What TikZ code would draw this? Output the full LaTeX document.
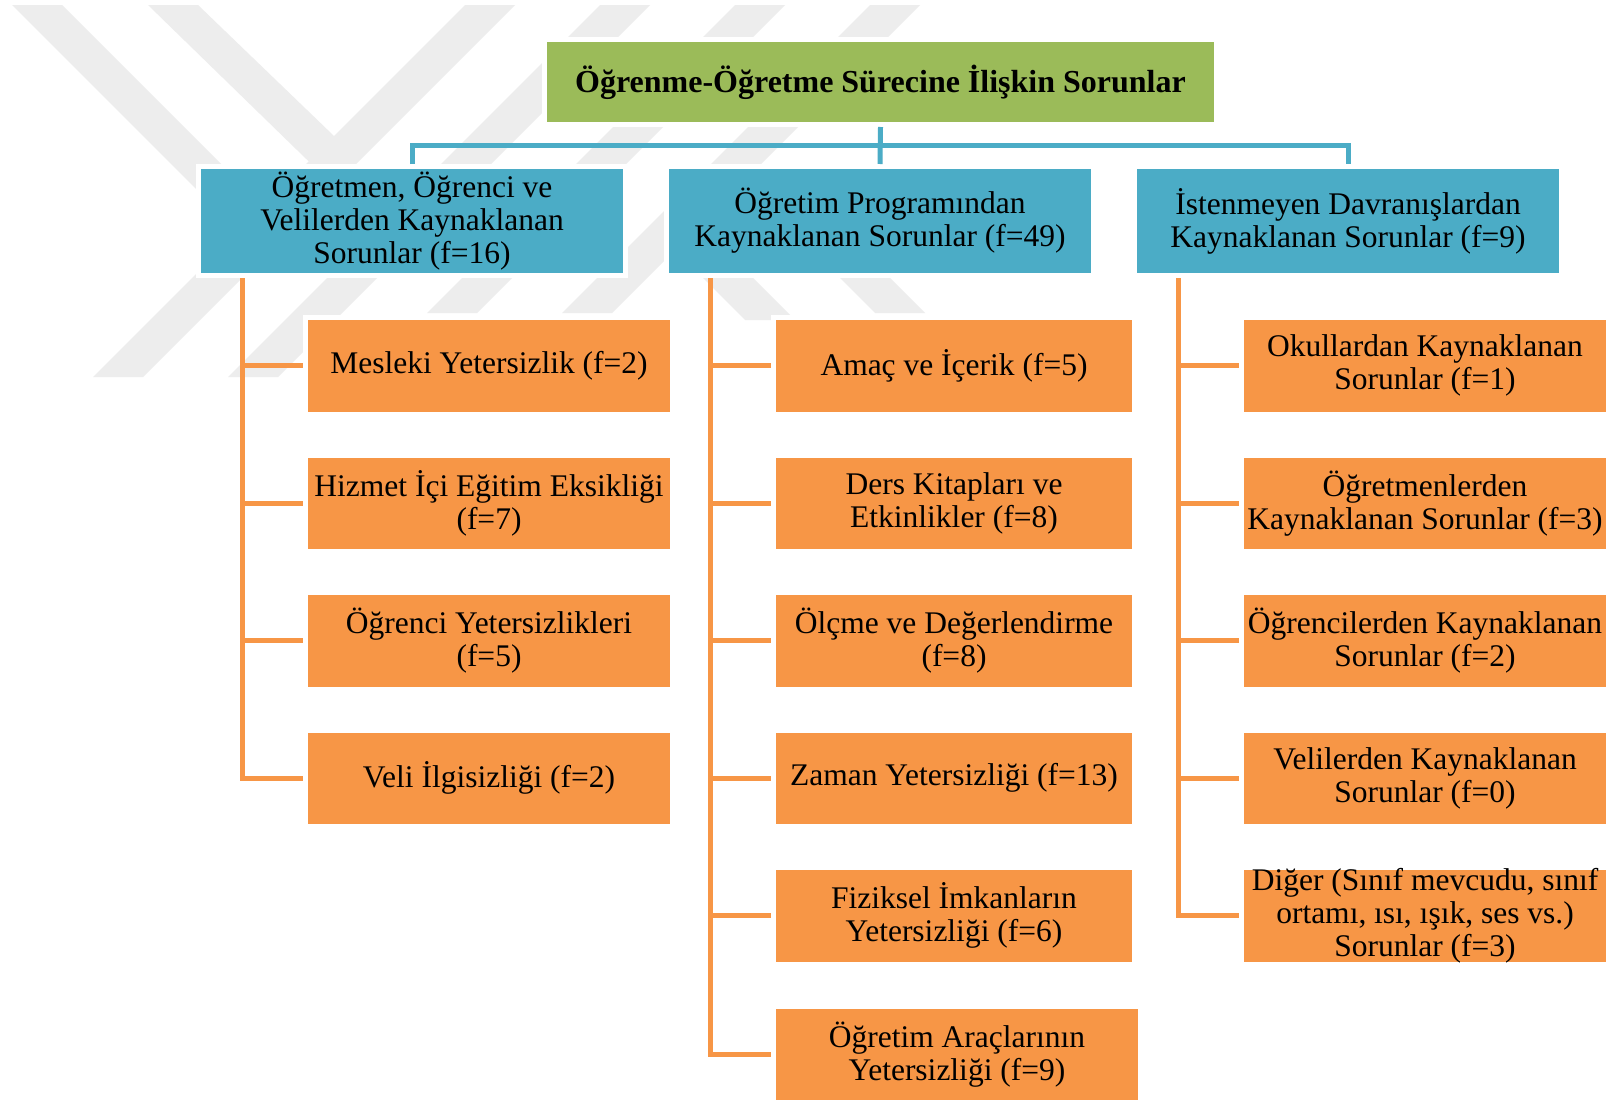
\documentclass[tikz,border=0pt]{standalone}
\usepackage{fontspec}
\setmainfont{Liberation Serif}
\usetikzlibrary{calc}
\definecolor{wm}{RGB}{237,237,237}
\definecolor{titlegreen}{RGB}{155,187,89}
\definecolor{catblue}{RGB}{75,172,198}
\definecolor{suborange}{RGB}{247,150,70}
\begin{document}
\begin{tikzpicture}[x=1pt,y=-1pt,
  box/.style={draw=white,line width=5pt,inner sep=0pt,align=center,text=black,font=\fontsize{31.5}{33}\selectfont},
  titlebox/.style={box,fill=titlegreen,minimum width=672pt,minimum height=85pt,font=\fontsize{32}{33}\selectfont\bfseries},
  catbox/.style={box,fill=catblue,minimum width=427pt,minimum height=109pt},
  subbox/.style={box,fill=suborange,minimum width=367pt,minimum height=96.5pt},
  subboxn/.style={subbox,minimum width=361pt},
  blueline/.style={draw=catblue,line width=5pt},
  orangeline/.style={draw=suborange,line width=5pt},
  wmark/.style={fill=wm}]
\useasboundingbox (0,0) rectangle (1609,1100);
\fill[white] (0,0) rectangle (1609,1100);
% watermark
\fill[wmark] (12,5) -- (62,5) -- (307,250) -- (257,250) -- cycle;
\fill[wmark] (148,5) -- (198,5) -- (334,136) -- (334,186) -- cycle;
\fill[wmark] (465,5) -- (515,5) -- (143,377) -- (93,377) -- cycle;
\fill[wmark] (600,5) -- (650,5) -- (278,377) -- (228,377) -- cycle;
\fill[wmark] (735,5) -- (785,5) -- (477,313) -- (427,313) -- cycle;
\fill[wmark] (870,5) -- (920,5) -- (612,313) -- (562,313) -- cycle;
\fill[wmark] (703,278) -- (753,278) -- (795,320) -- (745,320) -- cycle;
\fill[wmark] (840,278) -- (890,278) -- (925,313) -- (875,313) -- cycle;
% coordinates
\coordinate (hy) at (0,145);
\coordinate (t1) at (242,0);
\coordinate (t2) at (710,0);
\coordinate (t3) at (1178,0);
% nodes
\node[titlebox] (top) at (880.5,82) {Öğrenme-Öğretme Sürecine İlişkin Sorunlar};
\node[catbox] (b1) at (412,221) {Öğretmen, Öğrenci ve\\Velilerden Kaynaklanan\\Sorunlar (f=16)};
\node[catbox] (b2) at (880,221) {Öğretim Programından\\Kaynaklanan Sorunlar (f=49)};
\node[catbox] (b3) at (1348,221) {İstenmeyen Davranışlardan\\Kaynaklanan Sorunlar (f=9)};
% column 1
\node[subbox] (c11) at (489,365.75) {Mesleki Yetersizlik (f=2)};
\node[subbox] (c12) at (489,503.25) {Hizmet İçi Eğitim Eksikliği\\(f=7)};
\node[subbox] (c13) at (489,640.75) {Öğrenci Yetersizlikleri\\(f=5)};
\node[subbox] (c14) at (489,778.25) {Veli İlgisizliği (f=2)};
% column 2
\node[subboxn] (c21) at (954,365.75) {Amaç ve İçerik (f=5)};
\node[subboxn] (c22) at (954,503.25) {Ders Kitapları ve\\Etkinlikler (f=8)};
\node[subboxn] (c23) at (954,640.75) {Ölçme ve Değerlendirme\\(f=8)};
\node[subboxn] (c24) at (954,778.25) {Zaman Yetersizliği (f=13)};
\node[subboxn] (c25) at (954,915.75) {Fiziksel İmkanların\\Yetersizliği (f=6)};
\node[subbox] (c26) at (957,1054.25) {Öğretim Araçlarının\\Yetersizliği (f=9)};
% column 3
\node[subbox] (c31) at (1425,365.75) {Okullardan Kaynaklanan\\Sorunlar (f=1)};
\node[subbox] (c32) at (1425,503.25) {Öğretmenlerden\\Kaynaklanan Sorunlar (f=3)};
\node[subbox] (c33) at (1425,640.75) {Öğrencilerden Kaynaklanan\\Sorunlar (f=2)};
\node[subbox] (c34) at (1425,778.25) {Velilerden Kaynaklanan\\Sorunlar (f=0)};
\node[subbox] (c35) at (1425,915.75) {Diğer (Sınıf mevcudu, sınıf\\ortamı, ısı, ışık, ses vs.)\\Sorunlar (f=3)};
% blue connectors
\draw[blueline] (top.south) -- (b2.north);
\draw[blueline] (b1.north) -- (b1.north |- hy) -- (b3.north |- hy) -- (b3.north);
% orange connectors
\foreach \k in {1,...,4} {\draw[orangeline] (b1.south -| t1) |- (c1\k.west);}
\foreach \k in {1,...,6} {\draw[orangeline] (b2.south -| t2) |- (c2\k.west);}
\foreach \k in {1,...,5} {\draw[orangeline] (b3.south -| t3) |- (c3\k.west);}
\end{tikzpicture}
\end{document}
